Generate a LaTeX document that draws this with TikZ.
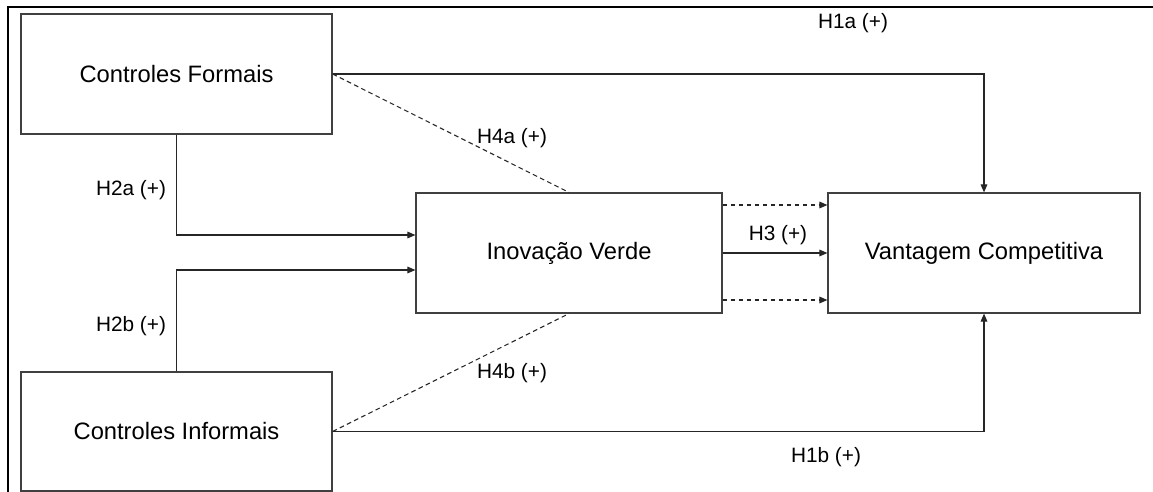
\documentclass[tikz,border=0pt]{standalone}
\usepackage{fontspec}
\setmainfont{Liberation Sans}
\usetikzlibrary{arrows.meta,calc}
\begin{document}
\begin{tikzpicture}[x=0.75pt,y=-0.75pt,
  box/.style={draw=black!75,line width=0.9pt,fill=white,inner sep=0pt,font=\fontsize{17.8}{21}\selectfont},
  lbl/.style={font=\fontsize{15.6}{18}\selectfont,inner sep=0pt},
  conn/.style={draw=black!85,line width=0.8pt},
  arr/.style={conn,-{Triangle[length=6pt,width=5pt]}},
  dsh/.style={conn,dash pattern=on 3.5pt off 2.5pt}]
\useasboundingbox (0,0) rectangle (1153,492);
\draw[line width=1.6pt] (8,495) -- (8,7) -- (1156,7);
\node[box,minimum width=233.25pt,minimum height=90pt] (CF) at (176.5,74) {Controles Formais};
\node[box,minimum width=233.25pt,minimum height=89.25pt] (CI) at (176.5,431.5) {Controles Informais};
\node[box,minimum width=229.5pt,minimum height=90pt] (IV) at (569,253) {Inovação Verde};
\node[box,minimum width=234pt,minimum height=90pt] (VC) at (984,253) {Vantagem Competitiva};
% connectors
\draw[arr] (CF.east) -| (VC.north);
\draw[arr] (CI.east) -| (VC.south);
\draw[arr] (CF.south) |- ([yshift=13.5pt]IV.west);
\draw[arr] (CI.north) |- ([yshift=-12.75pt]IV.west);
\draw[arr] (IV.east) -- (VC.west);
\draw[dsh,-{Triangle[length=6pt,width=5pt]}] ([yshift=36pt]IV.east) -- ([yshift=36pt]VC.west);
\draw[dsh,-{Triangle[length=6pt,width=5pt]}] ([yshift=-35.25pt]IV.east) -- ([yshift=-35.25pt]VC.west);
\draw[dsh] (CF.east) -- (IV.north);
\draw[dsh] (CI.east) -- (IV.south);
% labels
\node[lbl] (l1a) at (853,23) {H1a (+)};
\node[lbl] (l1b) at (826,457) {H1b (+)};
\node[lbl] (l2a) at (131,190) {H2a (+)};
\node[lbl] (l2b) at (131,326) {H2b (+)};
\node[lbl] (l3) at (778,235) {H3 (+)};
\node[lbl] (l4a) at (512,138) {H4a (+)};
\node[lbl] (l4b) at (512,373) {H4b (+)};
\end{tikzpicture}
\end{document}
